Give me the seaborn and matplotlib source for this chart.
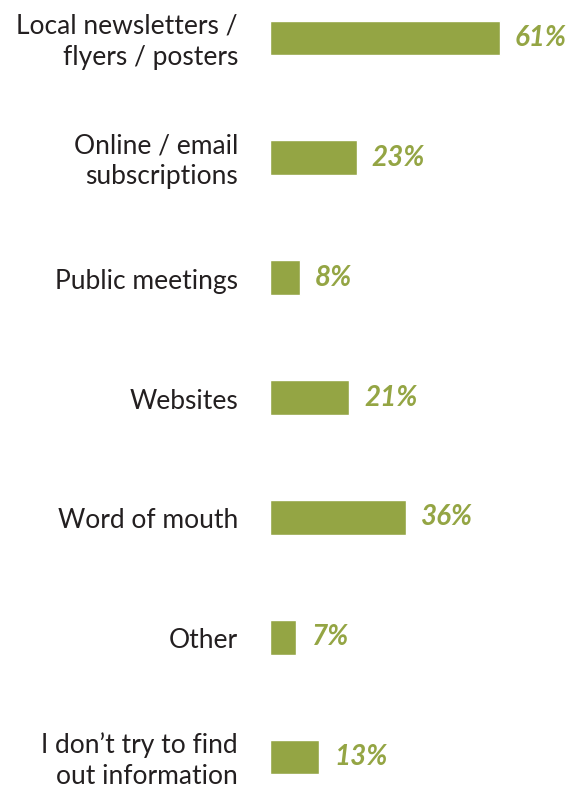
import matplotlib
matplotlib.use("Agg")
import matplotlib.pyplot as plt
import seaborn as sns
import pandas as pd

categories = [
    "Local newsletters /\nflyers / posters",
    "Online / email\nsubscriptions",
    "Public meetings",
    "Websites",
    "Word of mouth",
    "Other",
    "I don\u2019t try to find\nout information",
]
values = [61, 23, 8, 21, 36, 7, 13]

bar_color = "#94a544"
text_color = "#231f20"

sns.set_theme(style="white")
plt.rcParams["font.family"] = ["Lato", "DejaVu Sans"]

df = pd.DataFrame({"source": categories, "pct": values})

fig = plt.figure(figsize=(5.75, 7.9), dpi=100)
ax = fig.add_axes([0, 0, 1, 1])

sns.barplot(data=df, x="pct", y="source", orient="h", color=bar_color,
            saturation=1, width=0.29, ax=ax)

px_per_unit = 3.77
ax.set_xlim(-270 / px_per_unit, (575 - 270) / px_per_unit)
ax.set_ylim(6 + 33 / 119.8, -38 / 119.8)

for i, (cat, v) in enumerate(zip(categories, values)):
    ax.text(-8.5, i + 0.03, cat, ha="right", va="center", multialignment="right",
            fontsize=19, color=text_color, linespacing=1.3)
    ax.text(v + 4, i, f"{v}%", ha="left", va="center", fontsize=20,
            fontweight="bold", fontstyle="italic", color=bar_color)

ax.set_axis_off()
fig.savefig("out.png", dpi=100)
